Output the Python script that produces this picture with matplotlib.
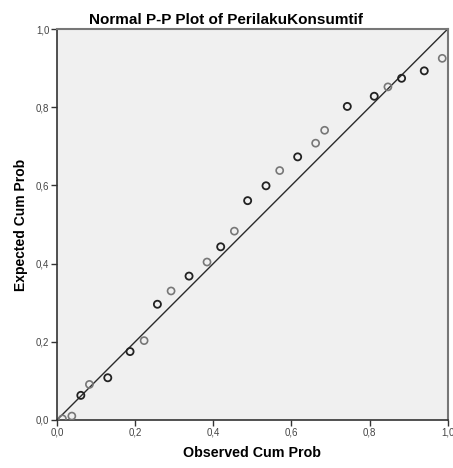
import numpy as np
import matplotlib.pyplot as plt
from matplotlib.ticker import FuncFormatter

plt.rcParams['font.family'] = ['Liberation Sans', 'DejaVu Sans']

# observed vs expected cumulative probabilities
observed = [0.014, 0.038, 0.061, 0.083, 0.130, 0.187, 0.223, 0.257, 0.292,
            0.338, 0.384, 0.419, 0.454, 0.488, 0.535, 0.570, 0.616, 0.662,
            0.685, 0.743, 0.812, 0.847, 0.882, 0.940, 0.986]
expected = [0.003, 0.010, 0.063, 0.091, 0.108, 0.175, 0.203, 0.296, 0.330,
            0.368, 0.404, 0.443, 0.483, 0.561, 0.599, 0.638, 0.673, 0.708,
            0.741, 0.802, 0.828, 0.852, 0.874, 0.893, 0.925]
# darker circles where cases overlap
dark = [0, 0, 1, 0, 1, 1, 0, 1, 0, 1, 0, 1, 0, 1, 1, 0, 1, 0, 0, 1, 1, 0, 1, 1, 0]
ticks = [0.0, 0.2, 0.4, 0.6, 0.8, 1.0]

fig = plt.figure(figsize=(4.53, 4.68), dpi=100)
ax = fig.add_axes([0.1258, 0.1026, 0.8625, 0.8354])
ax.set_facecolor('#f0f0f0')

ax.plot([0, 1], [0, 1], color='#2a2a2a', lw=1.0, zorder=2)

obs = np.array(observed)
exp = np.array(expected)
d = np.array(dark, dtype=bool)
ax.scatter(obs[~d], exp[~d], s=26, facecolors='none', edgecolors='#777777', linewidths=1.2, zorder=3)
ax.scatter(obs[d], exp[d], s=26, facecolors='none', edgecolors='#222222', linewidths=1.3, zorder=3)

ax.set_xlim(0, 1)
ax.set_ylim(0, 1)
ax.set_xticks(ticks)
ax.set_yticks(ticks)
fmt = FuncFormatter(lambda v, p: ('%.1f' % v).replace('.', ','))
ax.xaxis.set_major_formatter(fmt)
ax.yaxis.set_major_formatter(fmt)
ax.tick_params(direction='out', length=4, width=1, labelsize=7, pad=1.5,
               colors='#333333', labelcolor='#444444')

for s in ['left', 'bottom']:
    ax.spines[s].set_color('#333333')
    ax.spines[s].set_linewidth(1.2)
for s in ['top', 'right']:
    ax.spines[s].set_color('#777777')
    ax.spines[s].set_linewidth(1.5)

ax.set_xlabel('Observed Cum Prob', fontsize=10.3, fontweight='bold', labelpad=6)
ax.set_ylabel('Expected Cum Prob', fontsize=10, fontweight='bold', labelpad=6)
fig.text(0.499, 0.958, 'Normal P-P Plot of PerilakuKonsumtif', ha='center', va='center',
         fontsize=11, fontweight='bold')

fig.savefig('out.png', dpi=100)
